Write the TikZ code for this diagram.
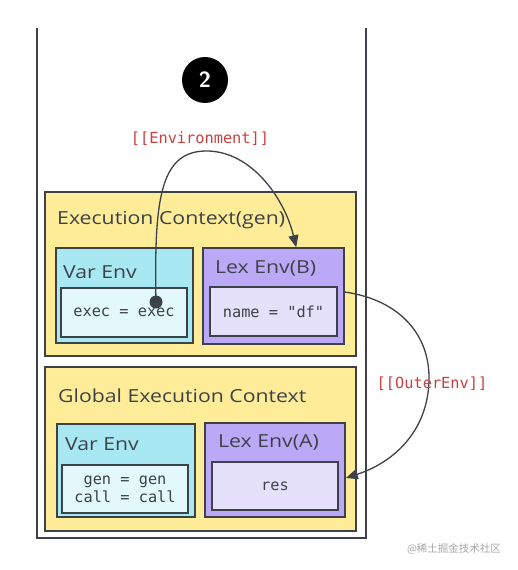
\documentclass[tikz,border=0pt]{standalone}
\usepackage{fontspec}
\setmonofont{DejaVu Sans Mono}
\newfontfamily\handfont{Open Sans}
\newfontfamily\cjkfont{Noto Sans CJK SC}
\usetikzlibrary{arrows.meta,calc}
\definecolor{lineC}{HTML}{3D4249}
\definecolor{yellowF}{HTML}{FFEC99}
\definecolor{cyanF}{HTML}{A8E8F2}
\definecolor{cyanIn}{HTML}{E2F8FB}
\definecolor{purpleF}{HTML}{BBA9F8}
\definecolor{purpleIn}{HTML}{E6E1FB}
\definecolor{redT}{HTML}{C94040}
\newcommand{\handtxt}[1]{\scalebox{1.18}[1]{#1}}
\tikzset{
  box/.style={draw=lineC, line width=1.6pt, inner sep=0pt},
  ctx/.style={box, fill=yellowF},
  varenv/.style={box, fill=cyanF},
  varin/.style={box, fill=cyanIn, font=\ttfamily\fontsize{15.3}{18}\selectfont, text=lineC, align=center},
  lexenv/.style={box, fill=purpleF},
  lexin/.style={box, fill=purpleIn, font=\ttfamily\fontsize{15.3}{18}\selectfont, text=lineC, align=center},
  hlabel/.style={anchor=west, inner sep=0pt, text=lineC, font=\handfont\fontsize{18}{21}\selectfont},
  redlabel/.style={text=redT, inner sep=0pt, font=\ttfamily\fontsize{15.3}{17}\selectfont},
  conn/.style={draw=lineC, line width=1.3pt, -{Triangle[length=12pt,width=10pt]}},
}
\begin{document}
\begin{tikzpicture}[x=1pt,y=-1pt]
\useasboundingbox (0,0) rectangle (518,570);
% stack
\draw[lineC, line width=1.8pt] (37,28) coordinate (stl) -- (37,538) -- (366,538) -- (366,28) coordinate (str);
% step badge
\node[circle, fill=black, minimum size=46pt, inner sep=0pt, text=white, font=\sffamily\bfseries\fontsize{22}{24}\selectfont] (badge) at (205,80) {2};
% execution context gen
\node[ctx, minimum width=311pt, minimum height=164pt] (ec) at (200.5,274) {};
\node[hlabel] (ecl) at (57,220) {\handtxt{Execution Context(gen)}};
\node[varenv, minimum width=137pt, minimum height=95pt] (ve1) at (124.5,295.5) {};
\node[hlabel] (ve1l) at (63,272) {\handtxt{Var Env}};
\node[varin, minimum width=126pt, minimum height=49pt] (ve1in) at (124,312.5) {exec = exec};
\node[lexenv, minimum width=141pt, minimum height=96pt] (le1) at (273.5,296) {};
\node[hlabel] (le1l) at (215,268) {\handtxt{Lex Env(B)}};
\node[lexin, minimum width=127pt, minimum height=49pt] (le1in) at (273.5,311.5) {name = "df"};
% global execution context
\node[ctx, minimum width=311pt, minimum height=164pt] (gec) at (200.5,449) {};
\node[hlabel] (gecl) at (58,396) {\handtxt{Global Execution Context}};
\node[varenv, minimum width=138pt, minimum height=93pt] (ve2) at (126,470.5) {};
\node[hlabel] (ve2l) at (65,444) {\handtxt{Var Env}};
\node[varin, minimum width=126pt, minimum height=48pt] (ve2in) at (125,489) {gen = gen\\call = call};
\node[lexenv, minimum width=140pt, minimum height=94pt] (le2) at (275,470) {};
\node[hlabel] (le2l) at (218,442) {\handtxt{Lex Env(A)}};
\node[lexin, minimum width=126pt, minimum height=48pt] (le2in) at (275,486) {res};
% environment pointer
\node[circle, fill=lineC, minimum size=13pt, inner sep=0pt] (dot) at (156,302) {};
\node[redlabel] (envl) at (200,139) {[[Environment]]};
\draw[conn] (dot.center) .. controls (154,200) and (160,152) .. (205,151) .. controls (252,150) and (285,200) .. ($(le1.north west)+(94,0)$);
% outer env pointer
\draw[conn] ($(le1.east)+(0,-4)$) .. controls (400,300) and (430,335) .. (429,380) .. controls (428,430) and (395,462) .. ($(le2.east)+(0,8)$);
\node[redlabel] (outl) at (432,384) {[[OuterEnv]]};
% watermark
\node[text=black!35, inner sep=0pt, font=\cjkfont\fontsize{10.5}{12}\selectfont] (wm) at (454,549) {@稀土掘金技术社区};
\end{tikzpicture}
\end{document}
